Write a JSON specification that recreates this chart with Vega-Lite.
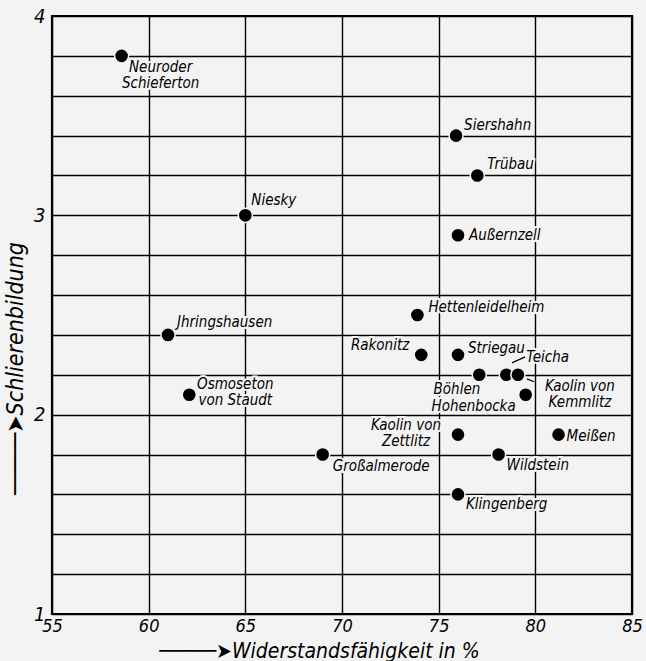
{
  "$schema": "https://vega.github.io/schema/vega-lite/v6.json",
  "width": 580,
  "height": 598,
  "autosize": {"type": "none"},
  "padding": {"left": 52, "top": 16, "right": 14, "bottom": 47},
  "background": "#f3f3f3",
  "config": {
    "view": {"stroke": "black", "strokeWidth": 2.2, "fill": "#f3f3f3"},
    "text": {"font": "DejaVu Sans Condensed", "fontSize": 15, "fontStyle": "italic", "baseline": "middle", "lineHeight": 16, "color": "black"},
    "axis": {
      "labelFont": "DejaVu Sans Condensed", "titleFont": "DejaVu Sans Condensed",
      "labelFontStyle": "italic", "titleFontStyle": "italic", "titleFontWeight": "normal",
      "labelColor": "black", "titleColor": "black",
      "gridColor": "black", "gridOpacity": 1, "gridWidth": 1.4,
      "domain": false, "ticks": false, "labelFlush": false, "labelOverlap": false
    }
  },
  "datasets": {
    "clays": [
      {"name": "Neuroder Schieferton", "w": 58.6, "s": 3.8, "label": ["Neuroder", "Schieferton"]},
      {"name": "Niesky", "w": 65.0, "s": 3.0, "label": ["Niesky"]},
      {"name": "Siershahn", "w": 75.9, "s": 3.4, "label": ["Siershahn"]},
      {"name": "Trübau", "w": 77.0, "s": 3.2, "label": ["Trübau"]},
      {"name": "Außernzell", "w": 76.0, "s": 2.9, "label": ["Außernzell"]},
      {"name": "Hettenleidelheim", "w": 73.9, "s": 2.5, "label": ["Hettenleidelheim"]},
      {"name": "Jhringshausen", "w": 61.0, "s": 2.4, "label": ["Jhringshausen"]},
      {"name": "Osmoseton von Staudt", "w": 62.1, "s": 2.1, "label": ["Osmoseton", "von Staudt"]},
      {"name": "Rakonitz", "w": 74.1, "s": 2.3, "label": ["Rakonitz"]},
      {"name": "Striegau", "w": 76.0, "s": 2.3, "label": ["Striegau"]},
      {"name": "Böhlen", "w": 77.1, "s": 2.2, "label": ["Böhlen"]},
      {"name": "Teicha", "w": 78.5, "s": 2.2, "label": ["Teicha"]},
      {"name": "Kaolin von Kemmlitz", "w": 79.1, "s": 2.2, "label": ["Kaolin von", "Kemmlitz"]},
      {"name": "Hohenbocka", "w": 79.5, "s": 2.1, "label": ["Hohenbocka"]},
      {"name": "Meißen", "w": 81.2, "s": 1.9, "label": ["Meißen"]},
      {"name": "Kaolin von Zettlitz", "w": 76.0, "s": 1.9, "label": ["Kaolin von", "Zettlitz"]},
      {"name": "Wildstein", "w": 78.1, "s": 1.8, "label": ["Wildstein"]},
      {"name": "Großalmerode", "w": 69.0, "s": 1.8, "label": ["Großalmerode"]},
      {"name": "Klingenberg", "w": 76.0, "s": 1.6, "label": ["Klingenberg"]}
    ],
    "leaders": [
      {"name": "Teicha", "w": 78.79, "s": 2.26, "w2": 79.47, "s2": 2.29},
      {"name": "Kaolin von Kemmlitz", "w": 79.57, "s": 2.18, "w2": 79.93, "s2": 2.165}
    ]
  },
  "data": {"name": "clays"},
  "encoding": {
    "x": {
      "field": "w", "type": "quantitative",
      "scale": {"domain": [55, 85], "nice": false, "zero": false},
      "axis": {
        "values": [55, 60, 65, 70, 75, 80, 85],
        "grid": true, "labelFontSize": 18, "labelPadding": 3,
        "title": "─────➤Widerstandsfähigkeit in %", "titleFontSize": 21,
        "titleX": 267, "titleY": 37, "titleAlign": "center", "titleBaseline": "middle", "titleAnchor": null
      }
    },
    "y": {
      "field": "s", "type": "quantitative",
      "scale": {"domain": [1, 4], "nice": false, "zero": false},
      "axis": {
        "values": [1, 1.2, 1.4, 1.6, 1.8, 2, 2.2, 2.4, 2.6, 2.8, 3, 3.2, 3.4, 3.6, 3.8, 4],
        "labelExpr": "datum.value % 1 === 0 ? format(datum.value, 'd') : ''",
        "grid": true, "labelFontSize": 20, "labelPadding": 7,
        "title": "─────➤Schlierenbildung", "titleFontSize": 23,
        "titleX": -37, "titleY": 352, "titleAlign": "center", "titleBaseline": "middle", "titleAngle": -90
      }
    }
  },
  "layer": [
    {
      "data": {"name": "leaders"},
      "mark": {"type": "rule", "color": "black", "strokeWidth": 1.3},
      "encoding": {"x2": {"field": "w2"}, "y2": {"field": "s2"}}
    },
    {"transform": [{"filter": "datum.name === 'Neuroder Schieferton'"}], "mark": {"type": "text", "align": "center", "dx": 39, "dy": 11, "stroke": "#f3f3f3", "strokeWidth": 4}, "encoding": {"text": {"field": "label"}}},
    {"transform": [{"filter": "datum.name === 'Niesky'"}], "mark": {"type": "text", "align": "left", "dx": 6, "dy": -15, "stroke": "#f3f3f3", "strokeWidth": 4}, "encoding": {"text": {"field": "label"}}},
    {"transform": [{"filter": "datum.name === 'Siershahn'"}], "mark": {"type": "text", "align": "left", "dx": 8, "dy": -11, "stroke": "#f3f3f3", "strokeWidth": 4}, "encoding": {"text": {"field": "label"}}},
    {"transform": [{"filter": "datum.name === 'Trübau'"}], "mark": {"type": "text", "align": "left", "dx": 10, "dy": -11, "stroke": "#f3f3f3", "strokeWidth": 4}, "encoding": {"text": {"field": "label"}}},
    {"transform": [{"filter": "datum.name === 'Außernzell'"}], "mark": {"type": "text", "align": "left", "dx": 11, "dy": 0, "stroke": "#f3f3f3", "strokeWidth": 4}, "encoding": {"text": {"field": "label"}}},
    {"transform": [{"filter": "datum.name === 'Hettenleidelheim'"}], "mark": {"type": "text", "align": "left", "dx": 11, "dy": -8, "stroke": "#f3f3f3", "strokeWidth": 4}, "encoding": {"text": {"field": "label"}}},
    {"transform": [{"filter": "datum.name === 'Jhringshausen'"}], "mark": {"type": "text", "align": "left", "dx": 9, "dy": -13, "stroke": "#f3f3f3", "strokeWidth": 4}, "encoding": {"text": {"field": "label"}}},
    {"transform": [{"filter": "datum.name === 'Osmoseton von Staudt'"}], "mark": {"type": "text", "align": "center", "dx": 46, "dy": -11, "stroke": "#f3f3f3", "strokeWidth": 4}, "encoding": {"text": {"field": "label"}}},
    {"transform": [{"filter": "datum.name === 'Rakonitz'"}], "mark": {"type": "text", "align": "right", "dx": -12, "dy": -10, "stroke": "#f3f3f3", "strokeWidth": 4}, "encoding": {"text": {"field": "label"}}},
    {"transform": [{"filter": "datum.name === 'Striegau'"}], "mark": {"type": "text", "align": "left", "dx": 10, "dy": -7, "stroke": "#f3f3f3", "strokeWidth": 4}, "encoding": {"text": {"field": "label"}}},
    {"transform": [{"filter": "datum.name === 'Böhlen'"}], "mark": {"type": "text", "align": "right", "dx": 1, "dy": 14, "stroke": "#f3f3f3", "strokeWidth": 4}, "encoding": {"text": {"field": "label"}}},
    {"transform": [{"filter": "datum.name === 'Teicha'"}], "mark": {"type": "text", "align": "left", "dx": 20, "dy": -18, "stroke": "#f3f3f3", "strokeWidth": 4}, "encoding": {"text": {"field": "label"}}},
    {"transform": [{"filter": "datum.name === 'Kaolin von Kemmlitz'"}], "mark": {"type": "text", "align": "center", "dx": 62, "dy": 11, "stroke": "#f3f3f3", "strokeWidth": 4}, "encoding": {"text": {"field": "label"}}},
    {"transform": [{"filter": "datum.name === 'Hohenbocka'"}], "mark": {"type": "text", "align": "right", "dx": -10, "dy": 11, "stroke": "#f3f3f3", "strokeWidth": 4}, "encoding": {"text": {"field": "label"}}},
    {"transform": [{"filter": "datum.name === 'Meißen'"}], "mark": {"type": "text", "align": "left", "dx": 8, "dy": 1, "stroke": "#f3f3f3", "strokeWidth": 4}, "encoding": {"text": {"field": "label"}}},
    {"transform": [{"filter": "datum.name === 'Kaolin von Zettlitz'"}], "mark": {"type": "text", "align": "center", "dx": -52, "dy": -10, "stroke": "#f3f3f3", "strokeWidth": 4}, "encoding": {"text": {"field": "label"}}},
    {"transform": [{"filter": "datum.name === 'Wildstein'"}], "mark": {"type": "text", "align": "left", "dx": 8, "dy": 10, "stroke": "#f3f3f3", "strokeWidth": 4}, "encoding": {"text": {"field": "label"}}},
    {"transform": [{"filter": "datum.name === 'Großalmerode'"}], "mark": {"type": "text", "align": "left", "dx": 10, "dy": 11, "stroke": "#f3f3f3", "strokeWidth": 4}, "encoding": {"text": {"field": "label"}}},
    {"transform": [{"filter": "datum.name === 'Klingenberg'"}], "mark": {"type": "text", "align": "left", "dx": 8, "dy": 10, "stroke": "#f3f3f3", "strokeWidth": 4}, "encoding": {"text": {"field": "label"}}},
    {
      "mark": {"type": "circle", "size": 200, "color": "black", "opacity": 1, "stroke": "#f3f3f3", "strokeWidth": 1.5}
    },
    {"transform": [{"filter": "datum.name === 'Neuroder Schieferton'"}], "mark": {"type": "text", "align": "center", "dx": 39, "dy": 11}, "encoding": {"text": {"field": "label"}}},
    {"transform": [{"filter": "datum.name === 'Niesky'"}], "mark": {"type": "text", "align": "left", "dx": 6, "dy": -15}, "encoding": {"text": {"field": "label"}}},
    {"transform": [{"filter": "datum.name === 'Siershahn'"}], "mark": {"type": "text", "align": "left", "dx": 8, "dy": -11}, "encoding": {"text": {"field": "label"}}},
    {"transform": [{"filter": "datum.name === 'Trübau'"}], "mark": {"type": "text", "align": "left", "dx": 10, "dy": -11}, "encoding": {"text": {"field": "label"}}},
    {"transform": [{"filter": "datum.name === 'Außernzell'"}], "mark": {"type": "text", "align": "left", "dx": 11, "dy": 0}, "encoding": {"text": {"field": "label"}}},
    {"transform": [{"filter": "datum.name === 'Hettenleidelheim'"}], "mark": {"type": "text", "align": "left", "dx": 11, "dy": -8}, "encoding": {"text": {"field": "label"}}},
    {"transform": [{"filter": "datum.name === 'Jhringshausen'"}], "mark": {"type": "text", "align": "left", "dx": 9, "dy": -13}, "encoding": {"text": {"field": "label"}}},
    {"transform": [{"filter": "datum.name === 'Osmoseton von Staudt'"}], "mark": {"type": "text", "align": "center", "dx": 46, "dy": -11}, "encoding": {"text": {"field": "label"}}},
    {"transform": [{"filter": "datum.name === 'Rakonitz'"}], "mark": {"type": "text", "align": "right", "dx": -12, "dy": -10}, "encoding": {"text": {"field": "label"}}},
    {"transform": [{"filter": "datum.name === 'Striegau'"}], "mark": {"type": "text", "align": "left", "dx": 10, "dy": -7}, "encoding": {"text": {"field": "label"}}},
    {"transform": [{"filter": "datum.name === 'Böhlen'"}], "mark": {"type": "text", "align": "right", "dx": 1, "dy": 14}, "encoding": {"text": {"field": "label"}}},
    {"transform": [{"filter": "datum.name === 'Teicha'"}], "mark": {"type": "text", "align": "left", "dx": 20, "dy": -18}, "encoding": {"text": {"field": "label"}}},
    {"transform": [{"filter": "datum.name === 'Kaolin von Kemmlitz'"}], "mark": {"type": "text", "align": "center", "dx": 62, "dy": 11}, "encoding": {"text": {"field": "label"}}},
    {"transform": [{"filter": "datum.name === 'Hohenbocka'"}], "mark": {"type": "text", "align": "right", "dx": -10, "dy": 11}, "encoding": {"text": {"field": "label"}}},
    {"transform": [{"filter": "datum.name === 'Meißen'"}], "mark": {"type": "text", "align": "left", "dx": 8, "dy": 1}, "encoding": {"text": {"field": "label"}}},
    {"transform": [{"filter": "datum.name === 'Kaolin von Zettlitz'"}], "mark": {"type": "text", "align": "center", "dx": -52, "dy": -10}, "encoding": {"text": {"field": "label"}}},
    {"transform": [{"filter": "datum.name === 'Wildstein'"}], "mark": {"type": "text", "align": "left", "dx": 8, "dy": 10}, "encoding": {"text": {"field": "label"}}},
    {"transform": [{"filter": "datum.name === 'Großalmerode'"}], "mark": {"type": "text", "align": "left", "dx": 10, "dy": 11}, "encoding": {"text": {"field": "label"}}},
    {"transform": [{"filter": "datum.name === 'Klingenberg'"}], "mark": {"type": "text", "align": "left", "dx": 8, "dy": 10}, "encoding": {"text": {"field": "label"}}}
  ]
}
